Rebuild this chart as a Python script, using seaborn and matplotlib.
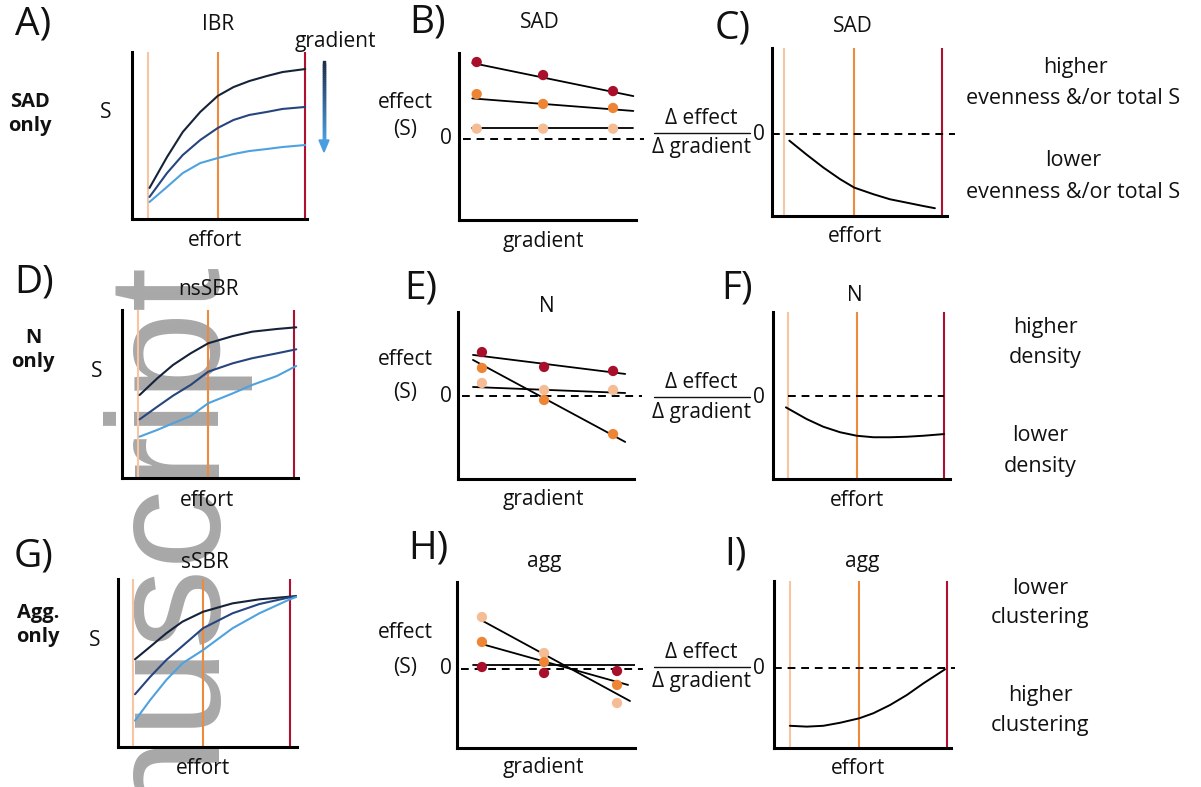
import numpy as np
import pandas as pd
import seaborn as sns
import matplotlib.pyplot as plt
from matplotlib.lines import Line2D
from matplotlib.patches import Polygon
from matplotlib.collections import LineCollection

# ---- data (effort / gradient on a 0-10 scale) ----
# IBR-type panels: S vs effort for three gradient positions
a_effort = [1.0, 2.0, 2.9, 3.9, 4.9, 5.8, 6.7, 7.7, 8.6, 9.9]
a_dark = [1.86, 3.71, 5.21, 6.41, 7.37, 7.90, 8.26, 8.56, 8.80, 8.98]
a_mid = [1.32, 2.75, 3.83, 4.73, 5.45, 5.93, 6.23, 6.41, 6.59, 6.71]
a_light = [1.02, 1.92, 2.75, 3.35, 3.65, 3.89, 4.07, 4.19, 4.31, 4.43]
a_levels = [0.9, 4.9, 9.9]

d_effort = [1.0, 2.0, 2.9, 3.9, 4.9, 6.3, 7.4, 8.8, 9.9]
d_dark = [4.94, 5.93, 6.73, 7.42, 8.02, 8.45, 8.71, 8.87, 8.97]
d_mid = [3.49, 4.24, 4.90, 5.54, 6.33, 6.83, 7.13, 7.42, 7.66]
d_light = [2.46, 2.86, 3.26, 3.69, 4.45, 5.04, 5.54, 6.07, 6.67]
d_levels = [0.9, 4.9, 9.8]

g_effort = [0.95, 1.8, 2.7, 3.6, 4.75, 6.4, 7.9, 9.6, 10.0]
g_dark = [5.22, 5.97, 6.77, 7.46, 8.05, 8.55, 8.79, 8.95, 8.99]
g_mid = [3.14, 4.18, 5.18, 6.01, 7.07, 7.96, 8.51, 8.91, 8.95]
g_light = [1.57, 2.80, 3.99, 4.98, 5.77, 7.07, 7.96, 8.79, 8.95]
g_levels = [0.85, 4.75, 9.6]

# effect vs gradient panels (points + drawn trend lines)
b_x = [1.0, 4.75, 8.7]
b_red = [4.61, 3.83, 2.87]
b_orange = [2.69, 2.10, 1.86]
b_peach = [0.62, 0.62, 0.62]
b_fit_x = [0.75, 9.85]
b_fit_red = [4.55, 2.57]
b_fit_orange = [2.43, 1.68]
b_fit_peach = [0.64, 0.64]

e_x = [1.36, 4.89, 8.81]
e_red = [2.63, 1.74, 1.50]
e_orange = [1.68, -0.24, -2.28]
e_peach = [0.78, 0.36, 0.36]
e_fit_x = [0.85, 9.5]
e_fit_red = [2.46, 1.32]
e_fit_orange = [2.16, -2.75]
e_fit_peach = [0.54, 0.18]

h_x = [1.40, 4.89, 8.99]
h_red = [0.12, -0.24, -0.12]
h_orange = [1.63, 0.42, -0.96]
h_peach = [3.13, 0.96, -2.05]
h_fit_red_x = [0.9, 10.0]
h_fit_red = [0.24, 0.24]
h_fit_orange_x = [1.57, 9.61]
h_fit_orange = [1.45, -0.96]
h_fit_peach_x = [1.35, 9.72]
h_fit_peach = [2.95, -1.93]

# slope of effect vs effort
c_effort = [0.99, 1.98, 2.93, 3.89, 4.70, 5.79, 6.74, 7.70, 8.65, 9.31]
c_slope = [-0.42, -1.25, -2.01, -2.70, -3.20, -3.59, -3.89, -4.09, -4.29, -4.42]
c_levels = [0.69, 4.69, 9.71]

f_effort = [0.73, 1.90, 2.84, 3.79, 4.73, 5.67, 6.61, 7.55, 8.49, 9.66]
f_slope = [-0.68, -1.38, -1.84, -2.17, -2.38, -2.47, -2.47, -2.44, -2.38, -2.28]
f_levels = [0.85, 4.75, 9.66]

i_effort = [0.90, 1.85, 2.79, 3.73, 4.82, 5.61, 6.55, 7.50, 8.44, 9.66]
i_slope = [-3.46, -3.51, -3.46, -3.28, -3.01, -2.71, -2.22, -1.62, -0.92, -0.08]
i_levels = [0.90, 4.80, 9.77]

# colours
level_cols = ['#f8c5a0', '#ee8a3c', '#b01030']
pt_cols = {'low': '#f5bd96', 'mid': '#ee8534', 'high': '#a70f2b'}
curve_cols = ['#15233a', '#26457f', '#4ea2df']

sns.set_theme(style='white')
plt.rcParams['font.family'] = ['Open Sans', 'DejaVu Sans']
plt.rcParams['text.color'] = '#111111'

W, H = 1201, 787
fig = plt.figure(figsize=(W / 100, H / 100), dpi=100)
fig.patch.set_facecolor('white')


def ftext(x, y, s, **kw):
    kw.setdefault('ha', 'center')
    kw.setdefault('va', 'center')
    kw.setdefault('fontsize', 15)
    return fig.text(x / W, 1 - y / H, s, **kw)


def make_ax(l, t, r, b, ylim):
    ax = fig.add_axes([l / W, 1 - b / H, (r - l) / W, (b - t) / H])
    ax.set_facecolor('none')
    ax.set_xlim(0, 10)
    ax.set_ylim(*ylim)
    for s in ['top', 'right']:
        ax.spines[s].set_visible(False)
    for s in ['left', 'bottom']:
        ax.spines[s].set_linewidth(2.2)
        ax.spines[s].set_color('black')
        ax.spines[s].set_zorder(5)
    return ax


def finish(ax):
    ax.set_xticks([])
    ax.set_yticks([])
    ax.set_xlabel('')
    ax.set_ylabel('')


def effort_lines(ax, levels):
    for lv, c in zip(levels, level_cols):
        ax.axvline(lv, color=c, lw=1.5, zorder=1)


def zero_line(ax, x0, x1):
    ax.plot([x0, x1], [0, 0], color='black', lw=1.4, ls=(0, (4, 3)),
            clip_on=False, zorder=2)


# ---- S vs effort panels (A, D, G) ----
for rect, ex, curves, levels in [
        ((132, 52, 307, 219), a_effort, [a_dark, a_mid, a_light], a_levels),
        ((122, 310, 298, 478), d_effort, [d_dark, d_mid, d_light], d_levels),
        ((118, 579, 297, 747), g_effort, [g_dark, g_mid, g_light], g_levels)]:
    ax = make_ax(*rect, (0, 10))
    effort_lines(ax, levels)
    for yv, c in zip(curves, curve_cols):
        sns.lineplot(x=ex, y=yv, color=c, lw=1.5, ax=ax, zorder=3)
    finish(ax)

# ---- effect vs gradient panels (B, E, H) ----
for rect, ylim, gx, pts, fits in [
        ((459, 53, 636, 220), (-4.85, 5.15), b_x,
         [b_peach, b_orange, b_red],
         [(b_fit_x, b_fit_peach), (b_fit_x, b_fit_orange), (b_fit_x, b_fit_red)]),
        ((458, 312, 634, 479), (-4.97, 5.03), e_x,
         [e_peach, e_orange, e_red],
         [(e_fit_x, e_fit_peach), (e_fit_x, e_fit_orange), (e_fit_x, e_fit_red)]),
        ((457, 582, 635, 748), (-4.76, 5.24), h_x,
         [h_peach, h_orange, h_red],
         [(h_fit_peach_x, h_fit_peach), (h_fit_orange_x, h_fit_orange),
          (h_fit_red_x, h_fit_red)])]:
    ax = make_ax(*rect, ylim)
    zero_line(ax, 0.2, 10.45)
    df = pd.DataFrame({
        'gradient': gx * 3,
        'effect': pts[0] + pts[1] + pts[2],
        'level': ['low'] * 3 + ['mid'] * 3 + ['high'] * 3,
    })
    for fx_, fy_ in fits:
        sns.lineplot(x=fx_, y=fy_, color='black', lw=1.3, ax=ax, zorder=3)
    sns.scatterplot(data=df, x='gradient', y='effect', hue='level',
                    palette=pt_cols, s=55, edgecolor='none', legend=False,
                    ax=ax, zorder=4)
    finish(ax)

# ---- slope vs effort panels (C, F, I) ----
for rect, ylim, ex, yv, levels, z0 in [
        ((772, 48, 947, 216), (-4.88, 5.06), c_effort, c_slope, c_levels, (0, 10.46)),
        ((773, 312, 950, 479), (-4.97, 5.03), f_effort, f_slope, f_levels, (0.85, 9.66)),
        ((774, 581, 951, 748), (-4.79, 5.21), i_effort, i_slope, i_levels, (0, 10.23))]:
    ax = make_ax(*rect, ylim)
    effort_lines(ax, levels)
    zero_line(ax, *z0)
    sns.lineplot(x=ex, y=yv, color='black', lw=1.4, ax=ax, zorder=3)
    finish(ax)

# ---- watermark ----
fig.text(207 / W, 1 - 253 / H, 'Manuscript', rotation=90, rotation_mode='anchor',
         ha='right', va='baseline', fontsize=115, family='Liberation Sans',
         color='#a8a8a8', zorder=-1)

# ---- gradient arrow in A ----
n = 40
ys = np.linspace(62, 142, n + 1)
c0 = np.array([0x1c, 0x2e, 0x4a]) / 255
c1 = np.array([0x4a, 0x9e, 0xe0]) / 255
segs = [[(324 / W, 1 - ys[k] / H), (324 / W, 1 - ys[k + 1] / H)] for k in range(n)]
seg_cols = [c0 * (1 - k / (n - 1)) + c1 * (k / (n - 1)) for k in range(n)]
fig.add_artist(LineCollection(segs, colors=seg_cols, linewidths=2.4,
                              capstyle='projecting', transform=fig.transFigure))
fig.add_artist(Polygon([[319 / W, 1 - 140 / H], [329 / W, 1 - 140 / H],
                        [324 / W, 1 - 152 / H]], closed=True, color='#4a9ee0',
                       transform=fig.transFigure))

# ---- texts ----
for s, x, y in [('A)', 33, 24), ('B)', 428, 22), ('C)', 733, 28),
                ('D)', 34, 282), ('E)', 421, 288), ('F)', 737, 288),
                ('G)', 34, 557), ('H)', 428, 549), ('I)', 736, 554)]:
    ftext(x, y, s, fontsize=28)

for s, x, y in [('SAD\nonly', 30, 114), ('N\nonly', 33, 350), ('Agg.\nonly', 38, 625)]:
    ftext(x, y, s, fontsize=14.5, fontweight='bold', linespacing=1.3)

for s, x, y in [('IBR', 218, 25), ('SAD', 540, 22), ('SAD', 853, 27),
                ('nsSBR', 208, 289), ('N', 547, 307), ('N', 855, 295),
                ('sSBR', 205, 563), ('agg', 544, 562), ('agg', 862, 562)]:
    ftext(x, y, s)

for x, y in [(215, 240), (207, 500), (203, 768), (855, 237), (857, 500), (858, 768)]:
    ftext(x, y, 'effort')
for y in [242, 500, 768]:
    ftext(543, y, 'gradient')

ftext(335, 42, 'gradient')

for x, y in [(106, 113), (97, 372), (95, 640)]:
    ftext(x, y, 'S')

for ye, ys_, y0 in [(103, 129, 139), (360, 392, 396), (633, 667, 669)]:
    ftext(405, ye, 'effect')
    ftext(405, ys_, '(S)')
    ftext(446, y0, '0')

for yl in [133, 397, 667]:
    ftext(701, yl - 15, 'Δ effect')
    ftext(701, yl + 15, 'Δ gradient')
    fig.add_artist(Line2D([654 / W, 750 / W], [1 - yl / H, 1 - yl / H], color='#111111',
                          lw=1.0, transform=fig.transFigure))
    ftext(759, yl + 1, '0')

for s, x, y in [('higher', 1075, 67), ('evenness &/or total S', 1073, 98),
                ('lower', 1073, 160), ('evenness &/or total S', 1073, 192),
                ('higher', 1045, 327), ('density', 1045, 357),
                ('lower', 1040, 435), ('density', 1040, 467),
                ('lower', 1040, 588), ('clustering', 1040, 618),
                ('higher', 1040, 695), ('clustering', 1040, 725)]:
    ftext(x, y, s, fontsize=15.5)

fig.savefig('out.png', dpi=100)
